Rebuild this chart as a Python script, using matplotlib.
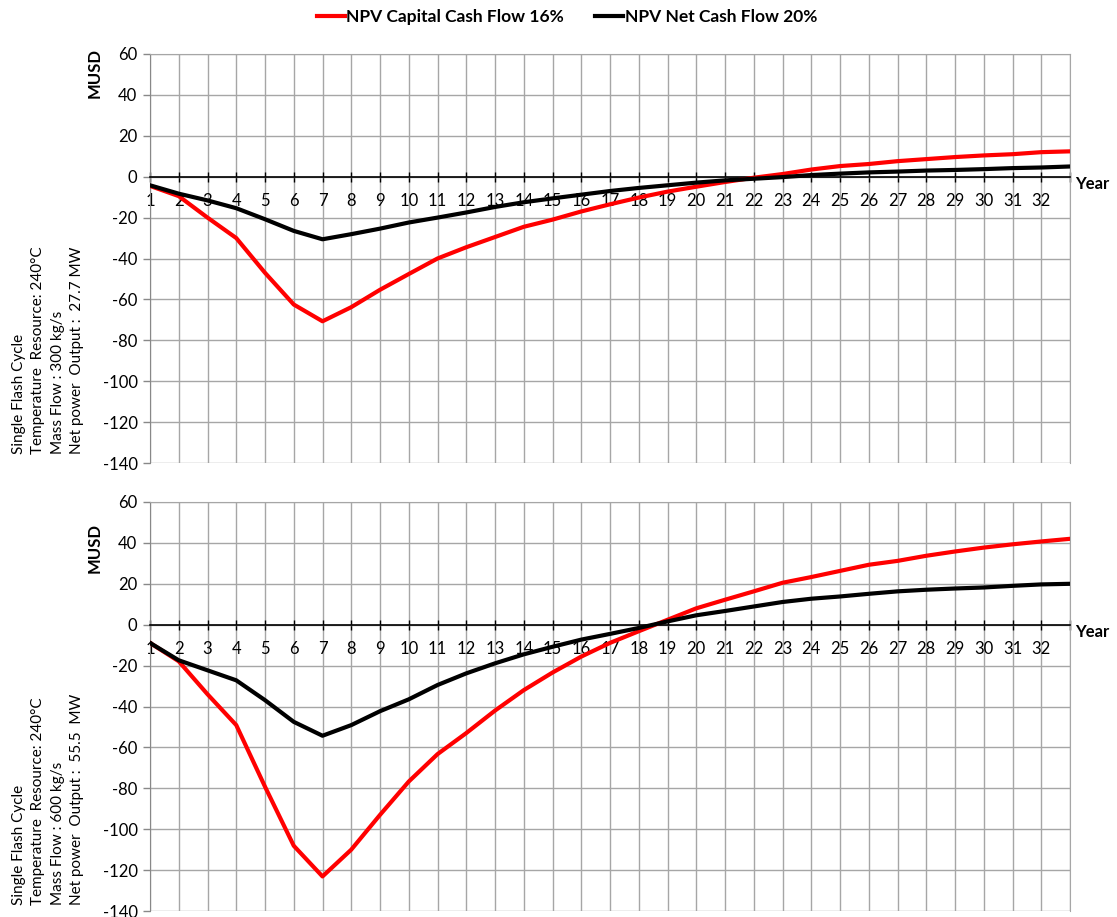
import matplotlib
matplotlib.use('Agg')
import matplotlib.pyplot as plt

# ---------------- data ----------------
years = list(range(1, 34))
x_labels = [str(y) for y in range(1, 33)] + ['']
y_ticks = list(range(-140, 61, 20))

series_names = ["NPV Capital Cash Flow 16%", "NPV Net Cash Flow 20%"]

top_capital = [-4.5, -9.5, -20, -30, -47, -62.5, -70.7, -63.8, -55.3, -47.6, -40,
               -34.5, -29.5, -24.5, -21, -17, -13.5, -10.2, -7.3, -4.9, -2.6, -0.5,
               1.3, 3.5, 5.2, 6.2, 7.6, 8.6, 9.6, 10.4, 11, 12, 12.4]
top_net = [-4.2, -8.3, -11.6, -15.4, -20.8, -26.5, -30.6, -28.1, -25.4, -22.4, -20,
           -17.5, -14.8, -12.5, -10.6, -8.8, -7, -5.5, -4.2, -2.9, -1.8, -1,
           -0.2, 0.8, 1.5, 2.1, 2.5, 3.0, 3.3, 3.7, 4.2, 4.5, 5]

bot_capital = [-8.9, -17.9, -34, -49.1, -79.2, -108.1, -123.1, -110, -93, -76.7, -63.3,
               -53, -42, -32, -23.4, -15.6, -8.9, -3.2, 2.4, 8, 12.2, 16.3,
               20.5, 23.3, 26.3, 29.3, 31.2, 33.7, 35.8, 37.7, 39.3, 40.7, 42]
bot_net = [-8.9, -17.4, -22.3, -27.2, -36.9, -47.5, -54.3, -49.1, -42.3, -36.5, -29.5,
           -23.8, -18.9, -14.5, -10.8, -7.3, -4.5, -1.6, 1.6, 4.6, 6.7, 8.9,
           11.1, 12.7, 13.8, 15.1, 16.3, 17.1, 17.7, 18.2, 19, 19.7, 20]

top_info = ["Single Flash Cycle", "Temperature  Resource: 240°C",
            "Mass Flow : 300 kg/s", "Net power  Output :  27.7 MW"]
bot_info = ["Single Flash Cycle", "Temperature  Resource: 240°C",
            "Mass Flow : 600 kg/s", "Net power  Output :  55.5  MW"]

# ---------------- style ----------------
plt.rcParams['font.family'] = ['Lato', 'DejaVu Sans']
plt.rcParams['axes.unicode_minus'] = False

W, H = 1117, 917
fig = plt.figure(figsize=(W / 100, H / 100), dpi=100)


def box(l, t, r, b):
    return [l / W, 1 - b / H, (r - l) / W, (b - t) / H]


GRID = '#a6a6a6'


def draw(ax, cap, net):
    l1, = ax.plot(years, cap, color='#ff0000', lw=3, label=series_names[0], zorder=4)
    l2, = ax.plot(years, net, color='black', lw=3, label=series_names[1], zorder=5)
    ax.set_xlim(1, 33)
    ax.set_ylim(-140, 60)
    ax.set_xticks(years)
    ax.set_xticklabels(x_labels)
    ax.set_yticks(y_ticks)
    ax.grid(True, color=GRID, lw=1)
    ax.set_axisbelow(True)
    for s in ['top', 'right']:
        ax.spines[s].set_color(GRID)
    ax.spines['left'].set_color('#888888')
    ax.spines['bottom'].set_position(('data', 0))
    ax.spines['bottom'].set_color('black')
    ax.spines['bottom'].set_linewidth(1.2)
    ax.tick_params(axis='x', direction='inout', length=7, width=1, pad=8,
                   labelsize=12, colors='black')
    ax.tick_params(axis='y', direction='out', length=5, width=1, pad=4,
                   labelsize=12, color='#888888', labelcolor='black')
    ax.annotate('Year', xy=(1, 0), xycoords=('axes fraction', 'data'),
                xytext=(5, -7), textcoords='offset pixels', ha='left', va='center',
                fontsize=12, fontweight='bold')
    return l1, l2


ax1 = fig.add_axes(box(150, 54, 1070, 463))
ax2 = fig.add_axes(box(150, 502, 1070, 911))
h1, h2 = draw(ax1, top_capital, top_net)
draw(ax2, bot_capital, bot_net)

fig.text(95 / W, 1 - 73 / H, 'MUSD', rotation=90, ha='center', va='center',
         fontsize=12, fontweight='bold')
fig.text(95 / W, 1 - 548 / H, 'MUSD', rotation=90, ha='center', va='center',
         fontsize=12, fontweight='bold')

fig.text(48 / W, 1 - 454 / H, '\n'.join(top_info), rotation=90, ha='center', va='bottom',
         multialignment='left', fontsize=11, linespacing=1.5)
fig.text(48 / W, 1 - 905 / H, '\n'.join(bot_info), rotation=90, ha='center', va='bottom',
         multialignment='left', fontsize=11, linespacing=1.5)

fig.legend([h1, h2], series_names, loc='center', bbox_to_anchor=(0.5076, 0.9815),
           ncol=2, frameon=False, prop={'weight': 'bold', 'size': 12.5},
           handlelength=1.6, handletextpad=0.1, columnspacing=1.8)

fig.savefig('out.png', dpi=100)
